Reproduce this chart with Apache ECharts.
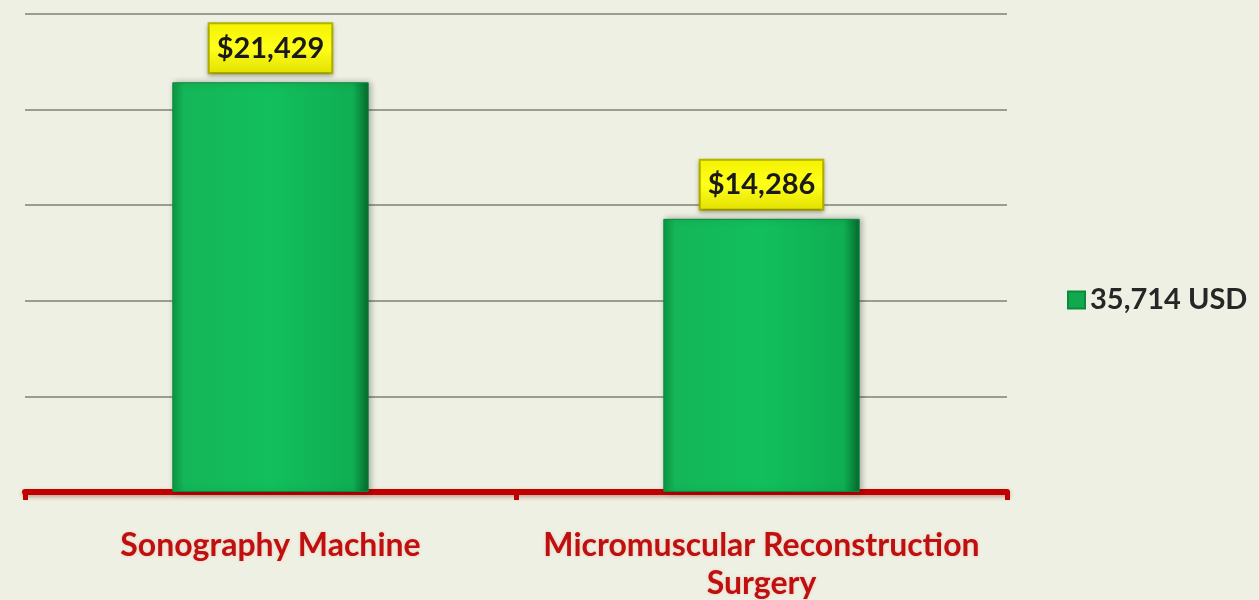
<!DOCTYPE html>
<html>
<head>
<meta charset="utf-8">
<script src="https://cdn.jsdelivr.net/npm/echarts@6/dist/echarts.min.js"></script>
<style>
    html, body { margin: 0; padding: 0; background: #edf0e2; }
    #chart { width: 1259px; height: 600px; }
</style>
</head>
<body>
<div id="chart"></div>
<script>
const categories = ['Sonography Machine', 'Micromuscular Reconstruction\nSurgery'];
const values = [21429, 14286];
const seriesName = '35,714 USD';
const yMin = 0;
const yMax = 25000;
const yStep = 5000;

const barGreen = new echarts.graphic.LinearGradient(0, 0, 1, 0, [
    { offset: 0, color: '#0c9a45' },
    { offset: 0.06, color: '#14b658' },
    { offset: 0.5, color: '#12bf5c' },
    { offset: 0.92, color: '#0fae52' },
    { offset: 1, color: '#066a2c' }
]);

const labelYellow = new echarts.graphic.LinearGradient(0, 0, 0, 1, [
    { offset: 0, color: '#f4f200' },
    { offset: 0.5, color: '#ffff1a' },
    { offset: 1, color: '#e2e000' }
]);

const option = {
    backgroundColor: '#edf0e2',
    animation: false,
    grid: {
        left: 25,
        right: 252,
        top: 14,
        bottom: 108,
        outerBoundsMode: 'none'
    },
    legend: {
        orient: 'vertical',
        left: 1062,
        top: 'middle',
        icon: 'rect',
        itemWidth: 17,
        itemHeight: 17,
        itemGap: 6,
        textStyle: {
            fontFamily: 'Lato',
            fontWeight: 'bold',
            fontSize: 29,
            color: '#262626'
        },
        data: [{ name: seriesName, itemStyle: { color: '#12a84e' } }]
    },
    xAxis: {
        type: 'category',
        data: categories,
        axisLine: {
            lineStyle: {
                color: '#c00000',
                width: 6,
                shadowColor: 'rgba(120,0,0,0.35)',
                shadowBlur: 4,
                shadowOffsetY: 2
            }
        },
        axisTick: {
            show: true,
            interval: 0,
            length: 8,
            lineStyle: { color: '#c00000', width: 5 }
        },
        axisLabel: {
            interval: 0,
            hideOverlap: false,
            margin: 35,
            fontFamily: 'Lato',
            fontWeight: 'bold',
            fontSize: 32,
            lineHeight: 38,
            color: '#bf1010',
            textShadowColor: 'rgba(255,120,120,0.35)',
            textShadowBlur: 3
        }
    },
    yAxis: {
        type: 'value',
        min: yMin,
        max: yMax,
        interval: yStep,
        axisLine: { show: false },
        axisTick: { show: false },
        axisLabel: { show: false },
        splitLine: {
            lineStyle: { color: '#9a9e8f', width: 2 }
        }
    },
    series: [
        {
            name: seriesName,
            type: 'bar',
            barWidth: '40%',
            data: values,
            itemStyle: {
                color: barGreen,
                borderColor: '#0a8a3c',
                borderWidth: 1,
                shadowColor: 'rgba(0,0,0,0.3)',
                shadowBlur: 6,
                shadowOffsetX: 2,
                shadowOffsetY: 0
            },
            label: {
                show: true,
                position: 'top',
                distance: 10,
                formatter: p => '$' + p.value.toLocaleString('en-US'),
                fontFamily: 'Lato',
                fontWeight: 'bold',
                fontSize: 29,
                lineHeight: 34,
                color: '#1a1a1a',
                backgroundColor: labelYellow,
                borderColor: '#b8b600',
                borderWidth: 2,
                padding: [7, 7, 7, 7],
                shadowColor: 'rgba(0,0,0,0.25)',
                shadowBlur: 4,
                shadowOffsetY: 2
            }
        }
    ]
};

echarts.init(document.getElementById('chart')).setOption(option);
</script>
</body>
</html>
